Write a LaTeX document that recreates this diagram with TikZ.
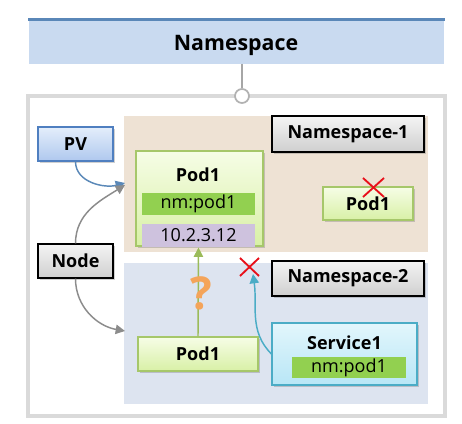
\documentclass[tikz,border=0pt]{standalone}
\usepackage{fontspec}
\setmainfont{Open Sans}
\usetikzlibrary{arrows.meta,shadows}
\definecolor{hdrfill}{HTML}{C9DAF0}
\definecolor{hdrline}{HTML}{5A87B8}
\definecolor{nsone}{HTML}{EEE2D4}
\definecolor{nstwo}{HTML}{DDE4F0}
\definecolor{outerln}{HTML}{DADADA}
\definecolor{podtop}{HTML}{F6FDE6}
\definecolor{podbot}{HTML}{D8F0A6}
\definecolor{podln}{HTML}{A6C76A}
\definecolor{nmgreen}{HTML}{92D050}
\definecolor{iplav}{HTML}{CEC2DE}
\definecolor{pvtop}{HTML}{E4EEFB}
\definecolor{pvbot}{HTML}{AFC8EE}
\definecolor{pvln}{HTML}{4F7FC0}
\definecolor{graytop}{HTML}{F4F4F4}
\definecolor{graybot}{HTML}{CFCFCF}
\definecolor{svctop}{HTML}{E2F6FC}
\definecolor{svcbot}{HTML}{B8E6F6}
\definecolor{svcln}{HTML}{4BACC6}
\definecolor{arrgray}{HTML}{8C8C8C}
\definecolor{arrblue}{HTML}{5A88B8}
\definecolor{arrgreen}{HTML}{9BBB59}
\definecolor{qorange}{HTML}{F4A45A}
\definecolor{xred}{HTML}{E8101A}
\begin{document}
\begin{tikzpicture}[x=0.75pt,y=-0.75pt,
  sz/.style 2 args={minimum width=#1*0.75pt, minimum height=#2*0.75pt},
  tbox/.style={rectangle, inner sep=0pt, line width=0.8pt},
  bold/.style={font=\fontsize{13.5}{16}\selectfont\bfseries},
  plain/.style={font=\fontsize{13.5}{16}\selectfont},
  shad/.style={drop shadow={shadow xshift=1.2pt, shadow yshift=-1.2pt, opacity=0.3, fill=black!60}},
  podbox/.style={tbox, draw=podln, top color=podtop, bottom color=podbot, shad},
  graybox/.style={tbox, draw=black, top color=graytop, bottom color=graybot, shad, bold},
  conn/.style={line width=1.1pt, -{Triangle[length=7pt,width=7pt]}},
  xmark/.style={draw=xred, line width=1.4pt}
]
\useasboundingbox[fill=white] (0,0) rectangle (462,424);

% header
\node[tbox, fill=hdrfill, sz={415}{44}] (hdr) at (236.5,42) {};
\draw[hdrline, line width=1.6pt] (hdr.north west) -- (hdr.north east);
\node[font=\fontsize{16}{19}\selectfont\bfseries] (hdrt) at (236,45) {Namespace};

% outer box
\node[tbox, draw=outerln, line width=2.4pt, fill=white, sz={417}{320}] (outer) at (236.5,256) {};
\coordinate (hlink) at (242,64);
\node[circle, draw=black!30, line width=1.3pt, fill=white, minimum size=14*0.75pt, inner sep=0pt] (knob) at (242,96) {};
\draw[black!35, line width=0.8pt] (hlink) -- (knob.north);

% namespace regions
\node[tbox, fill=nsone, sz={304}{136}] (ns1) at (276,184) {};
\node[tbox, fill=nstwo, sz={304}{141}] (ns2) at (276,333.5) {};

% labels
\node[graybox, sz={152}{36}] (ns1lbl) at (348,134) {Namespace-1};
\node[graybox, sz={152}{35}] (ns2lbl) at (348,278.5) {Namespace-2};

% PV and Node
\node[tbox, draw=pvln, top color=pvtop, bottom color=pvbot, shad, bold, sz={75}{34}] (pv) at (75.5,144) {PV};
\node[graybox, sz={75}{34}] (nodebox) at (75.5,261) {Node};

% Pod1 big
\node[podbox, sz={127}{95}] (pod1) at (199.5,198.5) {};
\node[bold] (pod1t) at (198,175) {Pod1};
\node[tbox, fill=nmgreen, plain, sz={113}{22}] (nm1) at (198.5,204) {nm:pod1};
\node[tbox, fill=iplav, plain, sz={113}{23}] (ip1) at (198.5,235.5) {10.2.3.12};

% Pod1 small in ns1
\node[podbox, bold, sz={90}{33}] (pod1b) at (368,203.5) {Pod1};
\draw[xmark] (363,178) -- (384,197) (363,197) -- (384,178);

% Pod1 in ns2
\node[podbox, bold, sz={120}{34}] (pod1c) at (198,354) {Pod1};

% Service1
\node[tbox, draw=svcln, top color=svctop, bottom color=svcbot, shad, sz={145}{62}] (svc) at (344.5,354) {};
\node[bold] (svct) at (344.5,343) {Service1};
\node[tbox, fill=nmgreen, plain, sz={114}{21}] (nm2) at (349,367.5) {nm:pod1};

% connectors
\coordinate (pvtip) at (125,183);
\coordinate (ndtip) at (125,185);
\coordinate (ndtip2) at (125,331);
\coordinate (svctip) at (253,274);
\draw[conn, arrblue] (pv.south) to[out=-90, in=195] (pvtip);
\draw[conn, arrgray] (nodebox.north) to[out=90, in=212] (ndtip);
\draw[conn, arrgray] (nodebox.south) to[out=-90, in=170] (ndtip2);
\draw[conn, arrgreen] (pod1c.north) -- (ip1.south);
\draw[conn, svcln] (svc.west) to[out=135, in=-82] (svctip);

\node[text=qorange, font=\fontsize{34}{34}\selectfont\bfseries] (qmark) at (201,293) {?};
\draw[xmark] (240,258) -- (259,276) (240,276) -- (259,258);
\end{tikzpicture}
\end{document}
